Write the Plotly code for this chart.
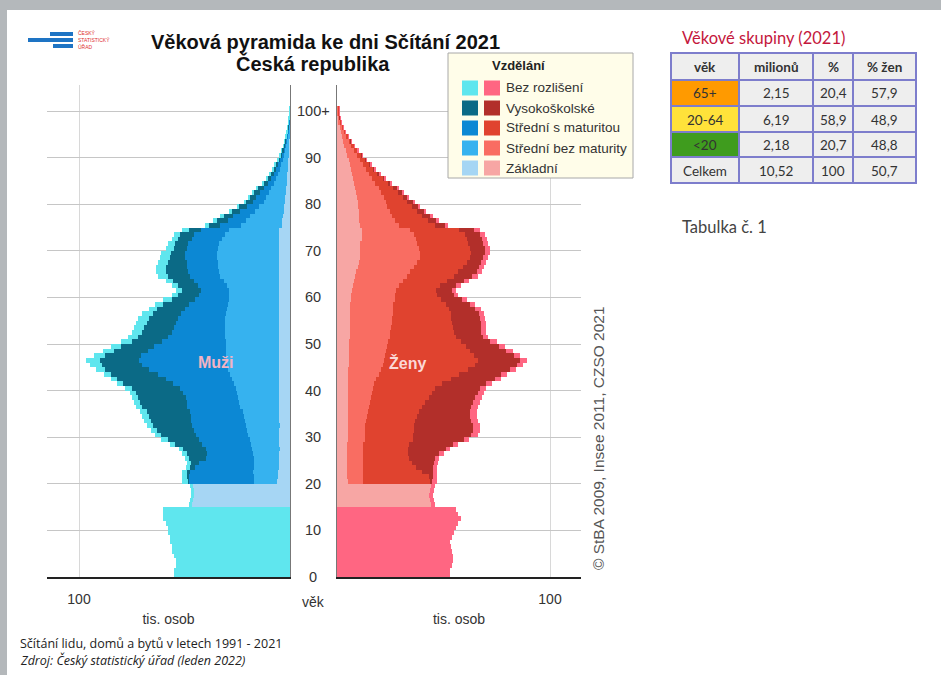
import plotly.graph_objects as go

W, H = 941, 675

# ---------------- data (thousands of persons, ages 0..100+) ----------------
ages = list(range(101))
age_tick_vals = [0, 10, 20, 30, 40, 50, 60, 70, 80, 90, 100]
age_tick_text = ["0", "10", "20", "30", "40", "50", "60", "70", "80", "90", "100+"]
edu_labels = ["Bez rozlišení", "Vysokoškolské", "Střední s maturitou", "Střední bez maturity", "Základní"]

male_zakladni = [0] * 15 + [46.5, 46, 45.5, 45.5, 46] + [
    6, 5.5, 5.5, 5, 5, 5, 5, 4.8, 5, 5,
    5, 5, 4.8, 5, 5, 5, 5.2, 5, 5, 5,
    5, 5, 5, 5, 5, 5, 5, 5, 5, 5,
    5, 5, 5, 5, 5, 5, 5, 5, 5, 5,
    5, 5, 5, 5, 5, 5, 5, 5, 5, 5,
    5, 5, 5, 5, 5, 4, 4, 3.5, 3, 3,
    2.5, 2.5, 2, 2, 1.5, 1.5, 1.2, 1, 0.9, 0.8,
    0.7, 0.6, 0.5, 0.4, 0.3, 0.2, 0.2, 0.1, 0.1, 0.05, 0.05]
male_str_bez = [0] * 20 + [
    11, 11.5, 12, 12, 12, 12, 12.5, 13, 13.5, 14,
    15, 15.5, 16, 16.5, 17, 17.5, 18.5, 19, 19.5, 20,
    20.5, 21.5, 22.5, 23.5, 24.5, 25, 25.5, 25.5, 25.5, 25.5,
    25.5, 26, 26, 26, 26, 26, 25.5, 25, 24.5, 24,
    24, 24, 25, 26.5, 28, 28.5, 29, 29, 29.5, 29.5,
    29, 28.5, 27, 26, 24, 19, 17, 15.5, 13.5, 11.5,
    10, 9, 8, 7, 6, 5, 4.4, 3.8, 3.2, 2.7,
    2.2, 1.8, 1.4, 1.1, 0.9, 0.7, 0.5, 0.35, 0.2, 0.12, 0.12]
male_str_mat = [0] * 20 + [
    31, 31, 30, 28, 26, 23, 22, 22, 23, 24,
    24.5, 25, 25.5, 25.5, 25, 25, 25, 25, 25, 25.5,
    26.5, 29, 31.5, 34, 37.5, 40, 41, 40, 37, 34,
    30, 27, 25, 24, 23, 22, 21, 20, 18.5, 16,
    14, 13, 13.5, 14, 14.5, 15, 15, 15, 15.5, 15.5,
    15, 15, 14.5, 14.5, 13, 10, 8.5, 8, 7, 6,
    5, 4.5, 4, 3.5, 3, 2.5, 2.2, 1.9, 1.6, 1.3,
    1.1, 0.9, 0.7, 0.6, 0.4, 0.3, 0.2, 0.15, 0.1, 0.06, 0.06]
male_vysoko = [0] * 20 + [
    0.5, 1, 1.5, 2.5, 4, 8, 9.5, 11, 13, 15,
    16.5, 17.5, 18.5, 19, 20, 20.5, 21.5, 22, 22.5, 22.5,
    23, 23.5, 23, 22.5, 20.5, 19, 18.5, 17, 16, 15.5,
    14.5, 14, 14, 14, 14, 14, 13.5, 13, 12, 11,
    10, 9, 9.5, 10, 10.5, 10.5, 10, 9, 7, 6.5,
    6, 6, 6.5, 6.5, 6, 5.5, 5, 4.5, 4, 3.5,
    3.5, 3, 3, 2.5, 2.2, 1.8, 1.6, 1.3, 1, 0.8,
    0.6, 0.5, 0.4, 0.3, 0.2, 0.15, 0.1, 0.08, 0.05, 0.03, 0.03]
male_bez_rozl = [55, 55, 54, 54, 55, 56, 56, 57, 57, 58, 58, 59, 60, 60, 60] + [1.5, 1.5, 1.5, 1.5, 1.5] + [
    2.5, 2, 2, 2, 2, 2, 2, 2, 2.5, 3,
    3, 3, 3, 3, 3, 3, 3, 3, 3, 3,
    3, 3, 3, 3, 4.5, 6, 6.5, 5.5, 5, 5,
    5, 5, 5, 5, 5, 5, 5, 4, 4, 4,
    3, 3, 3, 3.5, 4.5, 4.5, 4.5, 4.5, 4.5, 4.5,
    4, 3.5, 3, 3, 3, 2, 2, 1.5, 1.5, 1,
    1, 1, 1, 1, 0.8, 0.7, 0.6, 0.5, 0.5, 0.4,
    0.3, 0.2, 0.2, 0.2, 0.2, 0.15, 0.1, 0.07, 0.05, 0.03, 0.03]

female_zakladni = [0] * 15 + [44, 43.5, 43, 43.5, 44] + [
    5, 4.5, 4.5, 4.5, 4.5, 4.5, 4.5, 4.5, 4.5, 5,
    5, 5, 5, 5, 5, 5, 5, 5, 5, 5,
    5, 5, 5, 5, 5, 5.5, 5.5, 5.5, 5.5, 5.5,
    5.5, 6, 6, 6, 6, 6, 6, 6, 6, 6.5,
    6.5, 7, 7.5, 8, 8.5, 9, 10, 10.5, 11, 11,
    11, 11, 11.5, 11.5, 11.5, 11, 10.5, 10.5, 10.5, 10,
    10, 9.5, 9, 8.5, 8, 7.5, 7, 6.5, 6, 5.5,
    4.8, 4, 3.4, 2.8, 2.2, 1.7, 1.3, 0.9, 0.6, 0.4, 0.4]
female_str_bez = [0] * 20 + [
    7, 7.5, 7.5, 7.5, 7.5, 7.5, 7.5, 7.5, 7.5, 8,
    8, 8, 8, 8.5, 9, 9.5, 10, 10.5, 11, 11.5,
    12, 12.5, 13.5, 14.5, 15.5, 16, 16.5, 17, 17.5, 18,
    18.5, 19, 19, 19.5, 20, 20, 20.5, 20.5, 20.5, 20.5,
    20.5, 20.5, 21.5, 23, 24.5, 25.5, 26, 27, 28, 28,
    27.5, 26.5, 25.5, 24.5, 23, 18, 16.5, 15.5, 14.5, 13.5,
    13, 12.5, 11.5, 11, 10, 9, 8, 7, 6.2, 5.4,
    4.7, 4, 3.3, 2.7, 2.2, 1.7, 1.2, 0.9, 0.6, 0.4, 0.4]
female_str_mat = [0] * 20 + [
    32, 31, 28, 25, 23, 22, 21.5, 21.5, 22, 22.5,
    22.5, 23, 23, 23, 23.5, 24, 25, 26, 27, 28,
    29, 32, 35, 38, 41, 43.5, 44, 42, 39.5, 37,
    34, 31, 30, 29, 28, 27.5, 27, 26, 24.5, 22,
    20, 19, 19.5, 20.5, 22, 22.5, 23, 23.5, 23.5, 24,
    24, 24, 24, 24, 23, 17, 15.5, 14, 12.5, 11.5,
    10, 9, 8, 7, 6, 5, 4.2, 3.5, 3, 2.4,
    2, 1.6, 1.3, 1, 0.8, 0.6, 0.45, 0.3, 0.2, 0.15, 0.15]
female_vysoko = [0] * 20 + [
    0.5, 2, 5, 8, 10.5, 12, 14.5, 17.5, 20.5, 24,
    27.5, 28, 28, 26.5, 25, 24, 23, 22.5, 22, 21.5,
    21, 20.5, 20.5, 19.5, 19.5, 19.5, 20, 18.5, 17, 15.5,
    14, 12.5, 12.5, 13, 13.5, 13.5, 13, 12.5, 11.5, 9.5,
    8, 7.5, 7.5, 8, 8.5, 8.5, 7.5, 6.5, 6, 6.5,
    7, 7, 7, 7, 7, 4.5, 4, 3.5, 3.5, 3,
    2.5, 2, 2, 1.5, 1.2, 1, 0.8, 0.6, 0.5, 0.4,
    0.3, 0.2, 0.2, 0.2, 0.1, 0.1, 0.1, 0.05, 0.05, 0.03, 0.03]
female_bez_rozl = [53, 53, 54, 54.5, 54.5, 54, 53.5, 53, 54, 55, 56, 57, 58, 57, 56] + [2, 2, 2, 2, 2] + [
    2.5, 2, 2, 2, 2, 2, 2, 2, 2.5, 2.5,
    3, 3, 3, 3, 3, 3, 3, 3, 3, 3,
    3, 3, 3, 3, 3, 3, 3, 3, 3, 3,
    3, 2.5, 2.5, 2.5, 2.5, 2.5, 2.5, 2.5, 2.5, 2.5,
    2, 2, 2, 2.5, 2.5, 2.5, 2.5, 2.5, 2.5, 2.5,
    2.5, 2.5, 2.5, 2.5, 2.5, 1.5, 1.5, 1.5, 1, 1,
    1, 1, 1, 1, 0.8, 0.5, 0.5, 0.4, 0.3, 0.3,
    0.2, 0.2, 0.1, 0.1, 0.1, 0.1, 0.05, 0.05, 0.05, 0.02, 0.02]

table_cols = ["věk", "milionů", "%", "% žen"]
table_age = ["65+", "20-64", "<20", "Celkem"]
table_mil = ["2,15", "6,19", "2,18", "10,52"]
table_pct = ["20,4", "58,9", "20,7", "100"]
table_women = ["57,9", "48,9", "48,8", "50,7"]

# ---------------- styling ----------------
male_colors = {"Základní": "#a6d6f4", "Střední bez maturity": "#36b2ef",
               "Střední s maturitou": "#0c88d4", "Vysokoškolské": "#0b6a86",
               "Bez rozlišení": "#5fe6ee"}
female_colors = {"Základní": "#f7a6a4", "Střední bez maturity": "#f96d62",
                 "Střední s maturitou": "#e0432f", "Vysokoškolské": "#b22f2a",
                 "Bez rozlišení": "#ff6682"}
FONT = "Liberation Sans, Arial, sans-serif"
TFONT = "Lato, Open Sans, sans-serif"


def px(x):
    return x / W


def py(y):
    return 1 - y / H


y_pos = [a + 0.5 for a in ages]
male_series = [("Základní", male_zakladni), ("Střední bez maturity", male_str_bez),
               ("Střední s maturitou", male_str_mat), ("Vysokoškolské", male_vysoko),
               ("Bez rozlišení", male_bez_rozl)]
female_series = [("Základní", female_zakladni), ("Střední bez maturity", female_str_bez),
                 ("Střední s maturitou", female_str_mat), ("Vysokoškolské", female_vysoko),
                 ("Bez rozlišení", female_bez_rozl)]

fig = go.Figure()
for name, vals in male_series:
    fig.add_trace(go.Bar(x=vals, y=y_pos, orientation="h", width=1, name=name,
                         marker=dict(color=male_colors[name], line=dict(width=0)),
                         xaxis="x", yaxis="y", showlegend=False, hoverinfo="x+y+name"))
for name, vals in female_series:
    fig.add_trace(go.Bar(x=vals, y=y_pos, orientation="h", width=1, name=name,
                         marker=dict(color=female_colors[name], line=dict(width=0)),
                         xaxis="x2", yaxis="y2", showlegend=False, hoverinfo="x+y+name"))

y_dom = [py(577), py(85)]
y_range = [0, (577 - 85) / 4.66]
axis_common = dict(showgrid=True, gridcolor="#c6c6c6", gridwidth=1, zeroline=False,
                   tickvals=age_tick_vals[1:], showticklabels=False, ticks="",
                   showline=True, linecolor="#777", linewidth=1, range=y_range, domain=y_dom)

fig.update_layout(
    width=W, height=H, margin=dict(l=0, r=0, t=0, b=0),
    paper_bgcolor="white", plot_bgcolor="rgba(0,0,0,0)",
    barmode="stack", bargap=0, showlegend=False,
    font=dict(family=FONT, size=13, color="#333"),
    xaxis=dict(domain=[px(47), px(290)], range=[(290 - 47) / 2.11, 0], anchor="y",
               tickvals=[100], ticktext=["100"], showgrid=True, gridcolor="#d8d8d8",
               zeroline=False, showline=True, linecolor="#222", linewidth=1.5, ticks="",
               ticklabelstandoff=8, tickfont=dict(size=14, color="#333"),
               title=dict(text="tis. osob", standoff=9, font=dict(size=14, color="#333"))),
    xaxis2=dict(domain=[px(337), px(581)], range=[0, (581 - 337) / 2.13], anchor="y2",
                tickvals=[100], ticktext=["100"], showgrid=True, gridcolor="#d8d8d8",
                zeroline=False, showline=True, linecolor="#222", linewidth=1.5, ticks="",
                ticklabelstandoff=8, tickfont=dict(size=14, color="#333"),
                title=dict(text="tis. osob", standoff=9, font=dict(size=14, color="#333"))),
    yaxis=dict(anchor="x", side="right", **axis_common),
    yaxis2=dict(anchor="x2", side="left", matches="y", **axis_common),
)

shapes = []
annotations = []


def ann(text, x, y, size=13, color="#333", xanchor="center", family=FONT, **kw):
    annotations.append(dict(text=text, x=px(x), y=py(y), xref="paper", yref="paper",
                            showarrow=False, xanchor=xanchor, yanchor="middle",
                            font=dict(size=size, color=color, family=family), **kw))


# gray frame strips
shapes.append(dict(type="rect", xref="paper", yref="paper", x0=0, x1=1, y0=py(10), y1=1,
                   fillcolor="#b4b8bb", line=dict(width=0), layer="above"))
shapes.append(dict(type="rect", xref="paper", yref="paper", x0=0, x1=px(7), y0=0, y1=1,
                   fillcolor="#b4b8bb", line=dict(width=0), layer="above"))
# logo bars
for x0, x1, y0, y1 in [(50, 73, 32, 36), (28, 73, 38, 42), (53, 73, 44, 48)]:
    shapes.append(dict(type="rect", xref="paper", yref="paper", x0=px(x0), x1=px(x1),
                       y0=py(y1), y1=py(y0), fillcolor="#1e74c4", line=dict(width=0)))
# legend box
shapes.append(dict(type="rect", xref="paper", yref="paper", x0=px(448), x1=px(633),
                   y0=py(178), y1=py(53), fillcolor="#fffde9", line=dict(color="#a8a8a8", width=1)))
row_y = [88, 108, 128, 148, 168]
for ry, lab in zip(row_y, edu_labels):
    shapes.append(dict(type="rect", xref="paper", yref="paper", x0=px(462), x1=px(478),
                       y0=py(ry + 7.5), y1=py(ry - 7.5), fillcolor=male_colors[lab], line=dict(width=0)))
    shapes.append(dict(type="rect", xref="paper", yref="paper", x0=px(484), x1=px(500),
                       y0=py(ry + 7.5), y1=py(ry - 7.5), fillcolor=female_colors[lab], line=dict(width=0)))

# summary table (cell grid drawn from the table lists)
col_edges = [671, 739, 813, 853, 916]
row_edges = [53, 80, 106, 132, 157, 183]
first_col_fill = ["#ff9a00", "#ffe23a", "#3f9c1e", "#eeeeee"]
table_body = [table_age, table_mil, table_pct, table_women]
for r in range(len(row_edges) - 1):
    for c in range(len(col_edges) - 1):
        if r == 0:
            fill, txt = "#eeeeee", "<b>" + table_cols[c] + "</b>"
        else:
            fill = first_col_fill[r - 1] if c == 0 else "#eeeeee"
            txt = table_body[c][r - 1].replace("<", "&lt;")
        shapes.append(dict(type="rect", xref="paper", yref="paper",
                           x0=px(col_edges[c]), x1=px(col_edges[c + 1]),
                           y0=py(row_edges[r + 1]), y1=py(row_edges[r]),
                           fillcolor=fill, line=dict(color="#7d7dcc", width=2)))
        ann(txt, (col_edges[c] + col_edges[c + 1]) / 2, (row_edges[r] + row_edges[r + 1]) / 2 + 0.5,
            size=13.5, color="#333", family=TFONT)

ann("<b>Věková pyramida ke dni Sčítání 2021</b>", 325, 42, size=20, color="#111")
ann("<b>Česká republika</b>", 313, 64, size=20, color="#111")
for i, t in enumerate(["ČESKÝ", "STATISTICKÝ", "ÚŘAD"]):
    ann(t, 76, 33 + 6.5 * i, size=5, color="#e03030", xanchor="left")
ann("<b>Vzdělání</b>", 518, 66, size=13, color="#222")
for ry, lab in zip(row_y, edu_labels):
    ann(lab, 504, ry, size=13.5, color="#333", xanchor="left")
# age tick labels in the centre gap, placed on the shared age axis
for v, t in zip(age_tick_vals, age_tick_text):
    annotations.append(dict(text=t, x=px(313), y=v, xref="paper", yref="y", showarrow=False,
                            xanchor="center", yanchor="middle", font=dict(size=14.5, color="#333")))
ann("věk", 313, 602, size=14)
annotations.append(dict(text="<b>Muži</b>", x=35, y=46, xref="x", yref="y", showarrow=False,
                        font=dict(size=16, color="#f3b3c3", family=FONT)))
annotations.append(dict(text="<b>Ženy</b>", x=33, y=46, xref="x2", yref="y", showarrow=False,
                        font=dict(size=16, color="#fbd8d6", family=FONT)))
ann("© StBA 2009, Insee 2011, CZSO 2021", 598, 438, size=15.5, color="#555", textangle=-90)
ann("Věkové skupiny (2021)", 680, 38, size=16.5, color="#c4163c", xanchor="left", family=TFONT)
ann("Tabulka č. 1", 680, 227, size=16.5, color="#444", xanchor="left", family=TFONT)
ann("Sčítání lidu, domů a bytů v letech 1991 - 2021", 18, 643, size=12.5, color="#222",
    xanchor="left", family="Open Sans, sans-serif")
ann("<i>Zdroj: Český statistický úřad (leden 2022)</i>", 18, 660, size=12.5, color="#222",
    xanchor="left", family="Open Sans, sans-serif")

fig.update_layout(shapes=shapes, annotations=annotations)
fig.write_html("out.html", config={"displayModeBar": False},
               post_script="document.body.style.margin='0';document.body.style.overflow='hidden';")
